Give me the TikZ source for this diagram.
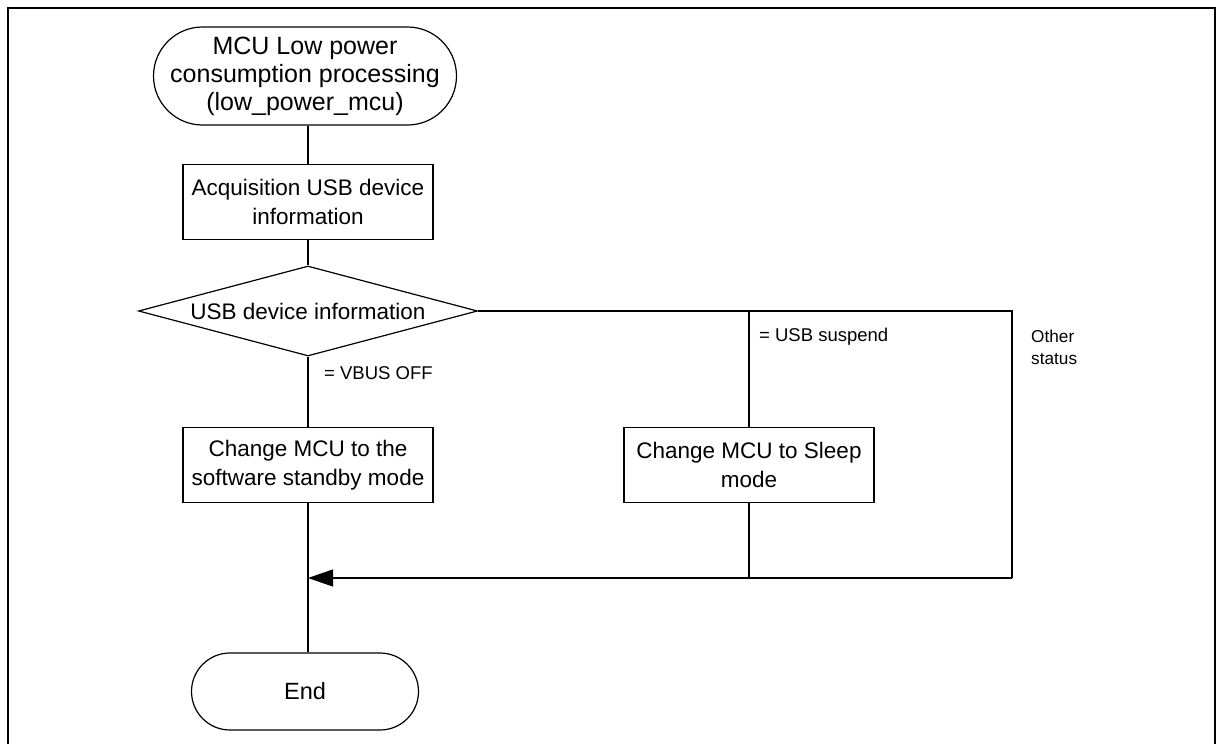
\documentclass[tikz,border=0pt]{standalone}
\usepackage{fontspec}
\setmainfont{Liberation Sans}
\usetikzlibrary{shapes.geometric,arrows.meta}
\tikzset{
  flow/.style={line width=1.2pt, draw=black},
  term/.style={flow, rectangle, align=center, inner sep=0pt, font=\fontsize{25}{28}\selectfont},
  procbox/.style={flow, rectangle, align=center, inner sep=0pt, minimum width=250pt, minimum height=75pt, font=\fontsize{22.5}{28.5}\selectfont},
  decbox/.style={flow, diamond, inner sep=0pt, aspect=3.77, minimum width=339pt, minimum height=90pt, font=\fontsize{22.5}{28}\selectfont},
  lbl/.style={inner sep=0pt, anchor=west, font=\fontsize{18.5}{22}\selectfont, align=left},
  conn/.style={line width=1.2pt},
  frameline/.style={line width=2pt}
}
\begin{document}
\begin{tikzpicture}[x=1pt,y=-1pt]
\useasboundingbox (0,0) rectangle (1216,744);
\draw[frameline] (8,744) -- (8,8) -- (1214.5,8) -- (1214.5,744);

\node[term, minimum width=303pt, minimum height=98pt, rounded corners=49pt] (start) at (305,76) {MCU Low power\\consumption processing\\(low\_power\_mcu)};
\node[procbox] (acq) at (308,202) {Acquisition USB device\\information};
\node[decbox] (dec) at (308,311) {USB device information};
\node[procbox] (std) at (308,465) {Change MCU to the\\software standby mode};
\node[procbox] (slp) at (749,465) {Change MCU to Sleep\\mode};
\node[term, minimum width=227pt, minimum height=77pt, rounded corners=38.5pt, font=\fontsize{23.5}{28}\selectfont] (end) at (305,691.5) {End};

\coordinate (tr) at (1012,311);
\coordinate (br) at (1012,578);
\coordinate (sj) at (749,311);
\coordinate (merge) at (308,578);

\draw[conn] (acq.north |- start.south) -- (acq.north);
\draw[conn] (acq.south) -- (dec.north);
\draw[conn] (dec.south) -- (std.north);
\draw[conn] (dec.east) -- (tr) -- (br);
\draw[conn] (sj) -- (slp.north);
\draw[conn] (slp.south) -- (slp.south |- br);
\draw[conn, -{Triangle[length=25pt,width=17pt]}] (br) -- (merge);
\draw[conn] (std.south) -- (end.north -| std.south);

\node[lbl] (l1) at (324,373) {= VBUS OFF};
\node[lbl] (l2) at (759,337) {= USB suspend};
\node[lbl, font=\fontsize{17.2}{22}\selectfont] (l3) at (1031,347) {Other\\status};
\end{tikzpicture}
\end{document}
